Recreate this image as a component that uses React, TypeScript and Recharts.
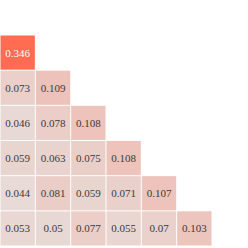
import React from 'react';
import { ScatterChart, Scatter, XAxis, YAxis } from 'recharts';

// lower-triangular matrix, row by row
const row1 = [0.346];
const row2 = [0.073, 0.109];
const row3 = [0.046, 0.078, 0.108];
const row4 = [0.059, 0.063, 0.075, 0.108];
const row5 = [0.044, 0.081, 0.059, 0.071, 0.107];
const row6 = [0.053, 0.05, 0.077, 0.055, 0.07, 0.103];
const rows = [row1, row2, row3, row4, row5, row6];

const cells = rows.flatMap((vals, r) => vals.map((v, c) => ({ row: r, col: c, value: v })));

const W = 248;
const H = 248;
const margin = { top: 35, right: 36, bottom: 2, left: 0 };
const n = rows.length;
const cellW = (W - margin.left - margin.right) / n;
const cellH = (H - margin.top - margin.bottom) / n;

const allVals = cells.map((d) => d.value);
const vMin = Math.min(...allVals);
const vMax = Math.max(...allVals);
const lo = [232, 218, 215];
const hi = [255, 108, 82];

const colorFor = (v: number) => {
  const t = (v - vMin) / (vMax - vMin);
  const c = lo.map((a, i) => Math.round(a + (hi[i] - a) * t));
  return `rgb(${c[0]},${c[1]},${c[2]})`;
};

const HeatCell = (props: any) => {
  const { cx, cy, payload } = props;
  if (cx == null || cy == null) return null;
  const strong = payload.value > 0.2;
  return (
    <g>
      <rect
        x={cx - cellW / 2 + 0.5}
        y={cy - cellH / 2 + 0.5}
        width={cellW - 1}
        height={cellH - 1}
        fill={colorFor(payload.value)}
      />
      <text
        x={cx}
        y={cy}
        textAnchor="middle"
        dominantBaseline="central"
        fontFamily="'Liberation Serif', serif"
        fontSize={11}
        fill={strong ? '#ffffff' : '#3a3a3a'}
      >
        {payload.value}
      </text>
    </g>
  );
};

const App: React.FC = () => {
  return (
    <div style={{ position: 'absolute', left: 0, top: 0, width: W, height: H, background: '#fff' }}>
      <ScatterChart width={W} height={H} margin={margin}>
        <XAxis dataKey="col" type="number" domain={[-0.5, n - 0.5]} hide />
        <YAxis dataKey="row" type="number" domain={[-0.5, n - 0.5]} reversed hide />
        <Scatter data={cells} shape={HeatCell} isAnimationActive={false} />
      </ScatterChart>
    </div>
  );
};

export default App;
